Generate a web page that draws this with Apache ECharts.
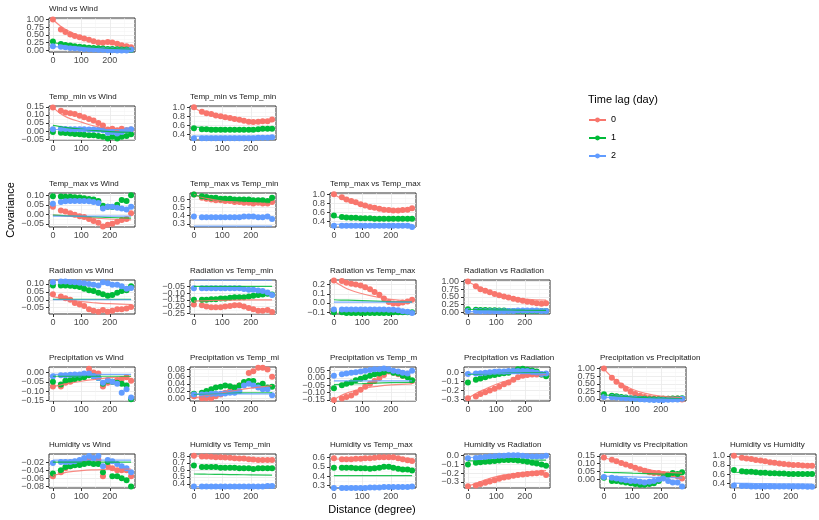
<!DOCTYPE html>
<html>
<head>
<meta charset="utf-8">
<script src="https://cdn.jsdelivr.net/npm/echarts@6/dist/echarts.min.js"></script>
<style>
  html, body { margin: 0; padding: 0; background: #fff; }
  #chart { width: 819px; height: 520px; }
</style>
</head>
<body>
<div id="chart"></div>
<script>
// distances (degree) of the points, and of the fitted curves
const DIST = [0, 28, 44, 61, 77, 94, 110, 127, 143, 160, 176, 193, 209, 226, 242, 259, 275];
const FIT_DIST = [0, 25, 50, 100, 150, 200, 275];
const X_TICKS = [0, 100, 200];
const LAGS = ['0', '1', '2'];
const VARS = ['Wind', 'Temp_min', 'Temp_max', 'Radiation', 'Precipitation', 'Humidity'];

// covariance per lag [0, 1, 2]
const windWind = [
  [1.0, 0.68, 0.6, 0.52, 0.47, 0.43, 0.39, 0.35, 0.30, 0.26, 0.25, 0.27, 0.26, 0.22, 0.17, 0.14, 0.10],
  [0.29, 0.21, 0.18, 0.16, 0.14, 0.12, 0.10, 0.09, 0.08, 0.07, 0.06, 0.05, 0.05, 0.04, 0.03, 0.03, 0.02],
  [0.14, 0.12, 0.10, 0.08, 0.07, 0.06, 0.05, 0.04, 0.03, 0.02, 0.02, 0.01, 0.01, 0.0, 0.0, 0.0, 0.03]];
const windWindFit = [
  [1.0, 0.8, 0.65, 0.45, 0.32, 0.23, 0.14],
  [0.26, 0.22, 0.19, 0.14, 0.1, 0.07, 0.04],
  [0.13, 0.11, 0.09, 0.06, 0.04, 0.02, 0.0]];

const tminWind = [
  [0.145, 0.125, 0.115, 0.11, 0.105, 0.095, 0.085, 0.075, 0.065, 0.05, 0.035, 0.01, 0.015, 0.005, 0.015, 0.005, 0.01],
  [-0.005, -0.01, -0.012, -0.015, -0.018, -0.02, -0.022, -0.025, -0.025, -0.03, -0.035, -0.045, -0.035, -0.045, -0.035, -0.03, -0.02],
  [0.012, 0.015, 0.013, 0.012, 0.012, 0.012, 0.012, 0.01, 0.01, 0.008, 0.005, -0.01, -0.005, -0.015, -0.005, 0.005, 0.012]];
const tminWindFit = [
  [0.15, 0.11, 0.085, 0.055, 0.03, 0.015, 0.01],
  [0.035, 0.028, 0.022, 0.012, 0.003, -0.003, -0.008],
  [0.01, 0.01, 0.01, 0.01, 0.01, 0.01, 0.01]];

const tminTmin = [
  [1.0, 0.9, 0.87, 0.85, 0.82, 0.8, 0.78, 0.76, 0.74, 0.72, 0.7, 0.68, 0.67, 0.68, 0.69, 0.69, 0.73],
  [0.53, 0.51, 0.51, 0.5, 0.5, 0.5, 0.5, 0.5, 0.5, 0.5, 0.5, 0.5, 0.5, 0.51, 0.52, 0.52, 0.52],
  [0.31, 0.31, 0.31, 0.31, 0.31, 0.31, 0.31, 0.31, 0.31, 0.31, 0.31, 0.31, 0.31, 0.32, 0.32, 0.32, 0.33]];
const tminTminFit = [
  [1.0, 0.9, 0.84, 0.77, 0.72, 0.69, 0.68],
  [0.56, 0.55, 0.54, 0.53, 0.52, 0.51, 0.5],
  [0.355, 0.355, 0.355, 0.355, 0.355, 0.355, 0.355]];

const tmaxWind = [
  [0.04, 0.02, 0.015, 0.005, -0.002, -0.01, -0.015, -0.025, -0.035, -0.045, -0.065, -0.055, -0.05, -0.04, -0.03, -0.025, 0.005],
  [0.095, 0.093, 0.092, 0.092, 0.09, 0.088, 0.085, 0.08, 0.078, 0.07, 0.045, 0.04, 0.038, 0.05, 0.075, 0.07, 0.1],
  [0.055, 0.065, 0.068, 0.07, 0.07, 0.07, 0.07, 0.068, 0.065, 0.06, 0.03, 0.04, 0.04, 0.035, 0.03, 0.025, 0.04]];
const tmaxWindFit = [
  [-0.005, -0.007, -0.01, -0.015, -0.02, -0.025, -0.03],
  [-0.005, -0.006, -0.008, -0.011, -0.014, -0.017, -0.02],
  [-0.01, -0.01, -0.01, -0.01, -0.01, -0.01, -0.01]];

const tmaxTmin = [
  [0.66, 0.62, 0.61, 0.6, 0.59, 0.59, 0.58, 0.58, 0.57, 0.57, 0.56, 0.56, 0.55, 0.56, 0.55, 0.55, 0.57],
  [0.66, 0.64, 0.63, 0.62, 0.62, 0.61, 0.61, 0.61, 0.6, 0.6, 0.6, 0.6, 0.59, 0.59, 0.59, 0.58, 0.62],
  [0.39, 0.38, 0.38, 0.38, 0.38, 0.38, 0.38, 0.38, 0.38, 0.38, 0.39, 0.39, 0.39, 0.38, 0.38, 0.39, 0.36]];
const tmaxTminFit = [
  [0.66, 0.63, 0.61, 0.58, 0.57, 0.56, 0.55],
  [0.65, 0.64, 0.63, 0.62, 0.61, 0.6, 0.59],
  [0.27, 0.27, 0.27, 0.27, 0.27, 0.27, 0.27]];

const tmaxTmax = [
  [1.0, 0.93, 0.88, 0.85, 0.82, 0.78, 0.75, 0.72, 0.7, 0.68, 0.66, 0.65, 0.64, 0.64, 0.65, 0.66, 0.69],
  [0.53, 0.5, 0.49, 0.48, 0.48, 0.47, 0.47, 0.47, 0.46, 0.46, 0.46, 0.46, 0.46, 0.46, 0.46, 0.46, 0.46],
  [0.31, 0.31, 0.31, 0.31, 0.31, 0.31, 0.31, 0.31, 0.31, 0.31, 0.31, 0.31, 0.31, 0.31, 0.31, 0.31, 0.28]];
const tmaxTmaxFit = [
  [1.0, 0.91, 0.84, 0.74, 0.67, 0.64, 0.65],
  [0.5, 0.49, 0.48, 0.47, 0.46, 0.46, 0.45],
  [0.34, 0.34, 0.34, 0.34, 0.34, 0.34, 0.34]];

const radWind = [
  [0.035, 0.02, 0.01, 0.0, -0.02, -0.03, -0.04, -0.06, -0.07, -0.075, -0.065, -0.075, -0.07, -0.06, -0.06, -0.055, -0.045],
  [0.09, 0.09, 0.09, 0.088, 0.085, 0.08, 0.07, 0.06, 0.055, 0.045, 0.035, 0.025, 0.03, 0.045, 0.055, 0.06, 0.085],
  [0.11, 0.115, 0.115, 0.112, 0.11, 0.108, 0.105, 0.1, 0.095, 0.09, 0.11, 0.105, 0.095, 0.095, 0.085, 0.07, 0.075]];
const radWindFit = [
  [0.02, 0.01, 0.0, -0.012, -0.02, -0.025, -0.03],
  [0.002, 0.002, 0.002, 0.002, 0.002, 0.002, 0.002],
  [0.0, 0.0, 0.0, 0.0, 0.0, 0.0, 0.0]];

const radTmin = [
  [-0.185, -0.19, -0.2, -0.205, -0.205, -0.205, -0.2, -0.195, -0.19, -0.19, -0.2, -0.21, -0.22, -0.23, -0.23, -0.225, -0.24],
  [-0.15, -0.15, -0.15, -0.145, -0.145, -0.14, -0.14, -0.135, -0.13, -0.13, -0.13, -0.125, -0.12, -0.115, -0.11, -0.105, -0.11],
  [-0.065, -0.065, -0.065, -0.065, -0.065, -0.065, -0.065, -0.065, -0.065, -0.065, -0.07, -0.075, -0.075, -0.08, -0.085, -0.095, -0.115]];
const radTminFit = [
  [-0.16, -0.158, -0.156, -0.154, -0.152, -0.15, -0.15],
  [-0.05, -0.05, -0.05, -0.05, -0.05, -0.05, -0.05],
  [-0.005, -0.005, -0.005, -0.005, -0.005, -0.005, -0.005]];

const radTmax = [
  [0.245, 0.24, 0.22, 0.21, 0.2, 0.19, 0.17, 0.15, 0.12, 0.09, 0.05, 0.01, -0.005, -0.005, 0.005, 0.015, 0.035],
  [-0.1, -0.1, -0.11, -0.11, -0.11, -0.11, -0.11, -0.11, -0.11, -0.11, -0.11, -0.11, -0.1, -0.1, -0.1, -0.1, -0.1],
  [-0.07, -0.07, -0.07, -0.07, -0.07, -0.07, -0.07, -0.07, -0.07, -0.07, -0.07, -0.075, -0.075, -0.08, -0.09, -0.095, -0.11]];
const radTmaxFit = [
  [0.24, 0.19, 0.15, 0.1, 0.065, 0.04, 0.02],
  [0.035, 0.032, 0.03, 0.025, 0.02, 0.015, 0.01],
  [0.01, 0.01, 0.01, 0.01, 0.01, 0.01, 0.01]];

const radRad = [
  [1.0, 0.85, 0.75, 0.7, 0.65, 0.6, 0.56, 0.52, 0.48, 0.44, 0.41, 0.38, 0.35, 0.32, 0.3, 0.28, 0.3],
  [0.1, 0.09, 0.08, 0.08, 0.07, 0.07, 0.06, 0.06, 0.05, 0.05, 0.05, 0.05, 0.05, 0.05, 0.05, 0.05, 0.05],
  [0.05, 0.05, 0.04, 0.04, 0.04, 0.04, 0.04, 0.04, 0.05, 0.05, 0.06, 0.06, 0.06, 0.06, 0.06, 0.05, 0.05]];
const radRadFit = [
  [1.0, 0.88, 0.78, 0.62, 0.5, 0.43, 0.4],
  [0.1, 0.095, 0.09, 0.085, 0.08, 0.075, 0.07],
  [0.03, 0.03, 0.03, 0.03, 0.03, 0.03, 0.03]];

const precWind = [
  [-0.075, -0.075, -0.055, -0.05, -0.035, -0.025, -0.01, 0.02, 0.0, -0.005, -0.075, -0.055, -0.05, -0.04, -0.035, -0.025, -0.045],
  [-0.05, -0.065, -0.045, -0.04, -0.035, -0.03, -0.025, -0.015, -0.02, -0.03, -0.06, -0.045, -0.05, -0.055, -0.06, -0.07, -0.145],
  [-0.02, -0.015, -0.015, -0.012, -0.01, -0.01, -0.005, -0.005, -0.02, -0.03, -0.055, -0.04, -0.05, -0.06, -0.11, -0.09, -0.135]];
const precWindFit = [
  [-0.075, -0.068, -0.06, -0.047, -0.037, -0.028, -0.02],
  [-0.02, -0.02, -0.02, -0.02, -0.02, -0.02, -0.02],
  [-0.01, -0.01, -0.01, -0.01, -0.01, -0.01, -0.01]];

const precTmin = [
  [0.005, 0.0, 0.0, 0.0, 0.005, 0.01, 0.015, 0.02, 0.025, 0.035, 0.04, 0.07, 0.075, 0.085, 0.085, 0.08, 0.06],
  [0.012, 0.015, 0.02, 0.025, 0.03, 0.032, 0.035, 0.033, 0.03, 0.035, 0.045, 0.048, 0.048, 0.035, 0.04, 0.03, 0.032],
  [0.01, 0.01, 0.01, 0.012, 0.012, 0.012, 0.013, 0.015, 0.015, 0.02, 0.035, 0.04, 0.035, 0.03, 0.025, 0.025, 0.008]];
const precTminFit = [
  [0.0, 0.004, 0.008, 0.015, 0.022, 0.028, 0.035],
  [0.01, 0.011, 0.012, 0.013, 0.014, 0.015, 0.015],
  [0.012, 0.012, 0.012, 0.012, 0.012, 0.012, 0.012]];

const precTmax = [
  [-0.15, -0.14, -0.13, -0.12, -0.1, -0.08, -0.06, -0.04, -0.02, 0.0, 0.02, 0.045, 0.035, 0.025, 0.015, 0.01, -0.02],
  [-0.07, -0.05, -0.04, -0.03, -0.015, -0.005, 0.005, 0.015, 0.025, 0.03, 0.04, 0.05, 0.035, 0.03, 0.015, 0.005, -0.015],
  [0.015, 0.025, 0.03, 0.035, 0.04, 0.045, 0.05, 0.055, 0.06, 0.06, 0.065, 0.06, 0.05, 0.045, 0.035, 0.03, 0.05]];
const precTmaxFit = [
  [-0.15, -0.12, -0.1, -0.072, -0.057, -0.047, -0.04],
  [-0.045, -0.043, -0.041, -0.038, -0.035, -0.032, -0.03],
  [-0.02, -0.02, -0.02, -0.02, -0.02, -0.02, -0.02]];

const precRad = [
  [-0.29, -0.27, -0.24, -0.22, -0.2, -0.18, -0.16, -0.13, -0.11, -0.08, -0.05, -0.035, -0.025, -0.02, -0.02, -0.02, -0.02],
  [-0.11, -0.08, -0.065, -0.05, -0.035, -0.025, -0.015, -0.005, 0.0, 0.02, 0.04, 0.045, 0.035, 0.025, 0.015, -0.02, -0.04],
  [-0.015, -0.01, -0.005, 0.0, 0.005, 0.01, 0.015, 0.015, 0.02, 0.02, 0.02, 0.02, 0.02, 0.01, 0.0, -0.015, -0.01]];
const precRadFit = [
  [-0.29, -0.24, -0.2, -0.13, -0.08, -0.045, -0.02],
  [-0.02, -0.017, -0.014, -0.009, -0.005, -0.002, 0.0],
  [-0.01, -0.01, -0.01, -0.01, -0.01, -0.01, -0.01]];

const precPrec = [
  [1.0, 0.7, 0.57, 0.45, 0.35, 0.25, 0.18, 0.12, 0.08, 0.05, 0.03, 0.02, 0.02, 0.02, 0.02, 0.03, 0.0],
  [0.17, 0.12, 0.1, 0.08, 0.06, 0.04, 0.03, 0.02, 0.02, 0.01, 0.01, 0.01, 0.02, 0.02, 0.03, 0.03, 0.04],
  [0.08, 0.07, 0.06, 0.05, 0.04, 0.03, 0.02, 0.01, 0.0, -0.01, -0.02, -0.02, -0.02, -0.01, 0.0, 0.0, 0.02]];
const precPrecFit = [
  [1.0, 0.75, 0.57, 0.33, 0.19, 0.11, 0.06],
  [0.15, 0.13, 0.11, 0.08, 0.06, 0.04, 0.03],
  [0.07, 0.06, 0.05, 0.03, 0.02, 0.01, 0.0]];

const humWind = [
  [-0.055, -0.045, -0.035, -0.03, -0.025, -0.02, -0.015, -0.01, -0.01, -0.015, -0.055, -0.03, -0.035, -0.04, -0.04, -0.04, -0.055],
  [-0.048, -0.04, -0.032, -0.03, -0.028, -0.027, -0.025, -0.022, -0.025, -0.025, -0.045, -0.02, -0.055, -0.055, -0.06, -0.065, -0.08],
  [-0.022, -0.02, -0.02, -0.02, -0.018, -0.015, -0.01, -0.005, -0.01, -0.005, -0.03, -0.015, -0.018, -0.025, -0.03, -0.035, -0.045]];
const humWindFit = [
  [-0.053, -0.049, -0.045, -0.041, -0.039, -0.038, -0.037],
  [-0.02, -0.02, -0.02, -0.02, -0.02, -0.02, -0.02],
  [-0.015, -0.015, -0.015, -0.015, -0.015, -0.015, -0.015]];

const humTmin = [
  [0.8, 0.79, 0.79, 0.785, 0.78, 0.78, 0.775, 0.77, 0.765, 0.76, 0.76, 0.75, 0.745, 0.74, 0.74, 0.74, 0.74],
  [0.66, 0.64, 0.64, 0.64, 0.64, 0.63, 0.63, 0.63, 0.63, 0.62, 0.62, 0.62, 0.61, 0.62, 0.62, 0.62, 0.62],
  [0.36, 0.36, 0.36, 0.36, 0.36, 0.36, 0.36, 0.36, 0.36, 0.36, 0.36, 0.36, 0.36, 0.36, 0.36, 0.37, 0.37]];
const humTminFit = [
  [0.8, 0.795, 0.79, 0.78, 0.765, 0.75, 0.74],
  [0.54, 0.538, 0.536, 0.533, 0.53, 0.528, 0.525],
  [0.36, 0.36, 0.36, 0.36, 0.36, 0.36, 0.36]];

const humTmax = [
  [0.59, 0.58, 0.58, 0.58, 0.585, 0.585, 0.59, 0.59, 0.595, 0.6, 0.6, 0.6, 0.6, 0.59, 0.58, 0.57, 0.56],
  [0.49, 0.49, 0.49, 0.49, 0.485, 0.485, 0.485, 0.48, 0.485, 0.49, 0.5, 0.5, 0.49, 0.48, 0.47, 0.47, 0.46],
  [0.275, 0.275, 0.275, 0.275, 0.275, 0.275, 0.275, 0.28, 0.28, 0.28, 0.285, 0.285, 0.285, 0.285, 0.285, 0.285, 0.29]];
const humTmaxFit = [
  [0.58, 0.582, 0.585, 0.59, 0.595, 0.595, 0.58],
  [0.405, 0.405, 0.405, 0.405, 0.405, 0.405, 0.405],
  [0.278, 0.278, 0.278, 0.278, 0.278, 0.278, 0.278]];

const humRad = [
  [-0.35, -0.34, -0.325, -0.31, -0.295, -0.28, -0.265, -0.25, -0.24, -0.23, -0.22, -0.215, -0.21, -0.205, -0.2, -0.195, -0.22],
  [-0.1, -0.08, -0.075, -0.07, -0.065, -0.06, -0.055, -0.05, -0.05, -0.05, -0.055, -0.06, -0.07, -0.08, -0.09, -0.1, -0.115],
  [-0.03, -0.025, -0.02, -0.015, -0.01, -0.005, 0.0, 0.0, 0.005, 0.005, 0.005, 0.0, -0.005, -0.01, -0.01, -0.01, 0.0]];
const humRadFit = [
  [-0.35, -0.32, -0.29, -0.24, -0.21, -0.19, -0.17],
  [-0.06, -0.058, -0.055, -0.052, -0.05, -0.05, -0.05],
  [-0.02, -0.017, -0.014, -0.01, -0.006, -0.003, 0.0]];

const humPrec = [
  [0.14, 0.125, 0.115, 0.105, 0.095, 0.085, 0.075, 0.065, 0.055, 0.045, 0.04, 0.04, 0.035, 0.03, 0.03, 0.02, 0.005],
  [0.01, -0.01, -0.01, -0.015, -0.02, -0.025, -0.03, -0.035, -0.035, -0.03, -0.025, -0.01, 0.01, 0.03, 0.04, 0.035, 0.045],
  [0.015, 0.01, 0.005, 0.0, -0.005, -0.01, -0.01, -0.015, -0.02, -0.015, -0.01, 0.0, 0.005, -0.01, -0.02, -0.02, -0.045]];
const humPrecFit = [
  [0.14, 0.125, 0.11, 0.085, 0.065, 0.05, 0.04],
  [0.045, 0.044, 0.043, 0.04, 0.037, 0.034, 0.03],
  [0.02, 0.019, 0.018, 0.016, 0.014, 0.012, 0.01]];

const humHum = [
  [1.0, 0.96, 0.94, 0.93, 0.91, 0.9, 0.88, 0.86, 0.85, 0.83, 0.82, 0.81, 0.8, 0.8, 0.79, 0.78, 0.78],
  [0.69, 0.66, 0.65, 0.65, 0.64, 0.63, 0.63, 0.62, 0.62, 0.61, 0.61, 0.6, 0.6, 0.6, 0.6, 0.6, 0.6],
  [0.35, 0.34, 0.34, 0.33, 0.33, 0.33, 0.33, 0.33, 0.33, 0.33, 0.33, 0.33, 0.33, 0.33, 0.33, 0.32, 0.32]];
const humHumFit = [
  [1.0, 0.96, 0.93, 0.87, 0.83, 0.8, 0.78],
  [0.64, 0.635, 0.63, 0.62, 0.61, 0.605, 0.6],
  [0.4, 0.398, 0.396, 0.392, 0.388, 0.384, 0.38]];

// panels in reading order (row by row, lower triangle)
const PANEL_POINTS = [windWind, tminWind, tminTmin, tmaxWind, tmaxTmin, tmaxTmax,
  radWind, radTmin, radTmax, radRad, precWind, precTmin, precTmax, precRad, precPrec,
  humWind, humTmin, humTmax, humRad, humPrec, humHum];
const PANEL_FITS = [windWindFit, tminWindFit, tminTminFit, tmaxWindFit, tmaxTminFit, tmaxTmaxFit,
  radWindFit, radTminFit, radTmaxFit, radRadFit, precWindFit, precTminFit, precTmaxFit, precRadFit, precPrecFit,
  humWindFit, humTminFit, humTmaxFit, humRadFit, humPrecFit, humHumFit];
const Y_RANGES = [[-0.05, 1.05], [-0.055, 0.155], [0.27, 1.03], [-0.067, 0.112], [0.26, 0.68], [0.28, 1.025],
  [-0.09, 0.125], [-0.255, -0.003], [-0.12, 0.25], [-0.05, 1.05], [-0.154, 0.03], [-0.008, 0.087],
  [-0.157, 0.075], [-0.32, 0.065], [-0.05, 1.05], [-0.084, 0.0], [0.34, 0.825], [0.275, 0.635],
  [-0.37, 0.02], [-0.055, 0.162], [0.295, 1.04]];
const Y_TICKS = [[0, 0.25, 0.5, 0.75, 1], [-0.05, 0, 0.05, 0.1, 0.15], [0.4, 0.6, 0.8, 1.0],
  [-0.05, 0, 0.05, 0.1], [0.3, 0.4, 0.5, 0.6], [0.4, 0.6, 0.8, 1.0],
  [-0.05, 0, 0.05, 0.1], [-0.25, -0.2, -0.15, -0.1, -0.05], [-0.1, 0, 0.1, 0.2], [0, 0.25, 0.5, 0.75, 1],
  [-0.15, -0.1, -0.05, 0], [0, 0.02, 0.04, 0.06, 0.08], [-0.15, -0.1, -0.05, 0, 0.05], [-0.3, -0.2, -0.1, 0],
  [0, 0.25, 0.5, 0.75, 1], [-0.08, -0.06, -0.04, -0.02], [0.4, 0.5, 0.6, 0.7, 0.8], [0.3, 0.4, 0.5, 0.6],
  [-0.3, -0.2, -0.1, 0], [0, 0.05, 0.1, 0.15], [0.4, 0.6, 0.8, 1.0]];

const FONT = '"Liberation Sans", Arial, Helvetica, sans-serif';
const LAG_COLORS = ['#F8766D', '#00BA38', '#619CFF'];
const COL_LEFT = [49, 190, 330, 464, 600, 730];
const ROW_TOP = [18, 106, 193, 280, 367, 454];
const PANEL_W = 86, PANEL_H = 34;
const X_RANGE = [-13.75, 288.75];

function minorBreaks(ticks, range) {
  const step = ticks[1] - ticks[0];
  const out = [];
  const all = [ticks[0] - step].concat(ticks, [ticks[ticks.length - 1] + step]);
  for (let i = 0; i < all.length - 1; i++) {
    const m = (all[i] + all[i + 1]) / 2;
    if (m > range[0] && m < range[1]) out.push(m);
  }
  return out;
}
function decimals(ticks) {
  return Math.max.apply(null, ticks.map(t => (String(t).split('.')[1] || '').length));
}
function fmt(v, d) {
  const s = Math.abs(v).toFixed(d);
  return (v < -1e-12 ? '\u2212' : '') + s;
}

const grid = [], xAxis = [], yAxis = [], series = [], title = [];

LAGS.forEach((lag, j) => series.push({
  name: lag, type: 'line', xAxisIndex: 0, yAxisIndex: 0, data: [],
  symbol: 'circle', symbolSize: 5,
  itemStyle: { color: LAG_COLORS[j] }, lineStyle: { color: LAG_COLORS[j], width: 1 }
}));

const labelStyle = { fontSize: 9, color: '#4d4d4d', fontFamily: FONT };

let k = 0;
for (let r = 0; r < 6; r++) {
  for (let c = 0; c <= r; c++, k++) {
    const left = COL_LEFT[c], top = ROW_TOP[r];
    grid.push({
      left: left, top: top, width: PANEL_W, height: PANEL_H,
      show: true, backgroundColor: '#fff', borderColor: '#333', borderWidth: 1,
      containLabel: false, outerBoundsMode: 'none'
    });
    // strip text is cut where the next panel's axis begins
    const strip = { fontSize: 8, fontWeight: 'normal', color: '#1a1a1a', fontFamily: FONT };
    if (c < r) { strip.width = 92; strip.overflow = 'truncate'; strip.ellipsis = ''; }
    title.push({ text: VARS[r] + ' vs ' + VARS[c], left: left, top: top - 13, padding: 0, textStyle: strip });

    const yr = Y_RANGES[k], yt = Y_TICKS[k], dec = decimals(yt);
    // y labels are packed tighter than their height: split them over two axes so none is dropped
    const evenTicks = yt.filter((v, i) => i % 2 === 0);
    const oddTicks = yt.filter((v, i) => i % 2 === 1);
    xAxis.push({
      gridIndex: k, type: 'value', min: X_RANGE[0], max: X_RANGE[1], position: 'bottom',
      axisLine: { show: false, onZero: false },
      axisTick: { show: true, length: 3, lineStyle: { color: '#333' }, customValues: X_TICKS },
      axisLabel: Object.assign({ customValues: X_TICKS, margin: 4, showMinLabel: true, showMaxLabel: true }, labelStyle),
      splitLine: { show: true, lineStyle: { color: '#e8e8e8', width: 0.8 } }
    }, {
      gridIndex: k, type: 'value', min: X_RANGE[0], max: X_RANGE[1], position: 'bottom',
      axisLine: { show: false, onZero: false }, axisLabel: { show: false },
      axisTick: { show: false, customValues: minorBreaks(X_TICKS, X_RANGE) },
      splitLine: { show: true, lineStyle: { color: '#f3f3f3', width: 0.5 } }
    });
    yAxis.push({
      gridIndex: k, type: 'value', min: yr[0], max: yr[1], position: 'left',
      axisLine: { show: false, onZero: false },
      axisTick: { show: true, length: 3, lineStyle: { color: '#333' }, customValues: yt },
      axisLabel: Object.assign({ customValues: evenTicks, margin: 5, showMinLabel: true, showMaxLabel: true,
        formatter: v => fmt(v, dec) }, labelStyle),
      splitLine: { show: true, lineStyle: { color: '#e8e8e8', width: 0.8 } }
    }, {
      gridIndex: k, type: 'value', min: yr[0], max: yr[1], position: 'left', offset: 0,
      axisLine: { show: false, onZero: false },
      axisTick: { show: false, customValues: oddTicks },
      axisLabel: Object.assign({ customValues: oddTicks, margin: 5, showMinLabel: true, showMaxLabel: true,
        formatter: v => fmt(v, dec) }, labelStyle),
      splitLine: { show: false }
    }, {
      gridIndex: k, type: 'value', min: yr[0], max: yr[1], position: 'left', offset: 0,
      axisLine: { show: false, onZero: false }, axisLabel: { show: false },
      axisTick: { show: false, customValues: minorBreaks(yt, yr) },
      splitLine: { show: true, lineStyle: { color: '#f3f3f3', width: 0.5 } }
    });
    const pts = PANEL_POINTS[k], fits = PANEL_FITS[k];
    for (let j = 0; j < 3; j++) {
      series.push({
        name: LAGS[j], type: 'scatter', xAxisIndex: 2 * k, yAxisIndex: 3 * k, silent: true,
        data: DIST.map((d, m) => [d, pts[j][m]]), symbolSize: 6,
        itemStyle: { color: LAG_COLORS[j], opacity: 1 }, z: 2
      });
    }
    for (let j = 0; j < 3; j++) {
      series.push({
        name: LAGS[j], type: 'line', xAxisIndex: 2 * k, yAxisIndex: 3 * k, silent: true,
        data: FIT_DIST.map((d, m) => [d, fits[j][m]]), smooth: true, showSymbol: false, symbol: 'none',
        lineStyle: { color: LAG_COLORS[j], width: 1.2, opacity: 0.85 }, z: 3
      });
    }
  }
}

title.push({
  text: 'Time lag (day)', left: 588, top: 94, padding: 0,
  textStyle: { fontSize: 11, fontWeight: 'normal', color: '#000', fontFamily: FONT }
});

const chart = echarts.init(document.getElementById('chart'));
chart.setOption({
  animation: false,
  backgroundColor: '#fff',
  title: title,
  grid: grid,
  xAxis: xAxis,
  yAxis: yAxis,
  legend: {
    data: LAGS, orient: 'vertical', left: 588, top: 115, padding: 0,
    itemWidth: 17, itemHeight: 6, itemGap: 8, selectedMode: false,
    textStyle: { fontSize: 9, color: '#000', fontFamily: FONT, lineHeight: 10 }
  },
  graphic: [
    { type: 'text', x: 11, y: 210, rotation: Math.PI / 2,
      style: { text: 'Covariance', fontSize: 11, fill: '#000', fontFamily: FONT, align: 'center', verticalAlign: 'middle' } },
    { type: 'text', x: 372, y: 510,
      style: { text: 'Distance (degree)', fontSize: 11, fill: '#000', fontFamily: FONT, align: 'center', verticalAlign: 'middle' } }
  ],
  series: series
});
</script>
</body>
</html>
